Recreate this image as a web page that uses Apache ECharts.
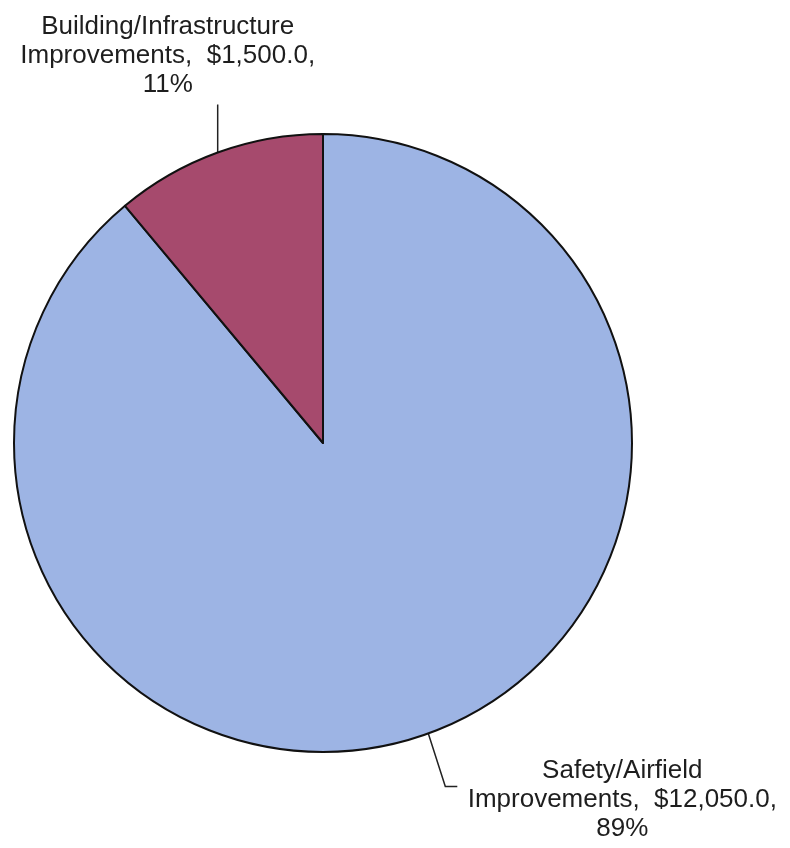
<!DOCTYPE html>
<html>
	<head>
		<title>Improvements pie</title>
		<meta http-equiv="content-type" content="text/html; charset=UTF-8">
		<script src="https://cdn.jsdelivr.net/npm/echarts@6/dist/echarts.min.js"></script>
		<style>
			html {height: 100%; width: 100%;}
			body {height: 100%; width: 100%; margin:0px; background:#fff;}
		</style>
	</head>
	<body>
		<div id="container" style="width:790px;height:848px;"></div>
		<script>
			const categories = ['Safety/Airfield\nImprovements', 'Building/Infrastructure\nImprovements'];
			const values = [12050.0, 1500.0];
			const colors = ['#9db4e4', '#a64a6d'];

			function fmtMoney(v) {
				return '$' + v.toLocaleString('en-US', {minimumFractionDigits: 1, maximumFractionDigits: 1});
			}

			let chart = echarts.init(document.getElementById('container'));
			chart.setOption({
				animation: false,
				series: [{
					type: 'pie',
					center: [323, 443],
					radius: 309,
					startAngle: 90,
					clockwise: true,
					data: categories.map(function (c, i) {
						return { name: c, value: values[i], itemStyle: { color: colors[i] } };
					}),
					itemStyle: { borderColor: '#111', borderWidth: 2 },
					label: {
						show: true,
						position: 'outside',
						fontFamily: 'Liberation Sans, Arial, sans-serif',
						fontSize: 26,
						lineHeight: 29,
						color: '#1e1e1e',
						align: 'center',
						overflow: 'none',
						formatter: function (p) {
							return p.name + ',  ' + fmtMoney(p.value) + ',\n' + Math.round(p.percent) + '%';
						}
					},
					labelLine: { show: true, lineStyle: { color: '#222', width: 1.5 } },
					labelLayout: function (p) {
						const s = p.labelLinePoints[0];
						if (p.dataIndex === 1) {
							return {
								x: s[0] - 50, y: s[1] - 53, align: 'center', verticalAlign: 'bottom',
								labelLinePoints: [s, [s[0], s[1] - 48], [s[0], s[1] - 48]]
							};
						}
						return {
							x: s[0] + 194, y: s[1] + 23, align: 'center', verticalAlign: 'top',
							labelLinePoints: [s, [s[0] + 17, s[1] + 53], [s[0] + 29, s[1] + 53]]
						};
					}
				}]
			});
		</script>
	</body>
</html>
